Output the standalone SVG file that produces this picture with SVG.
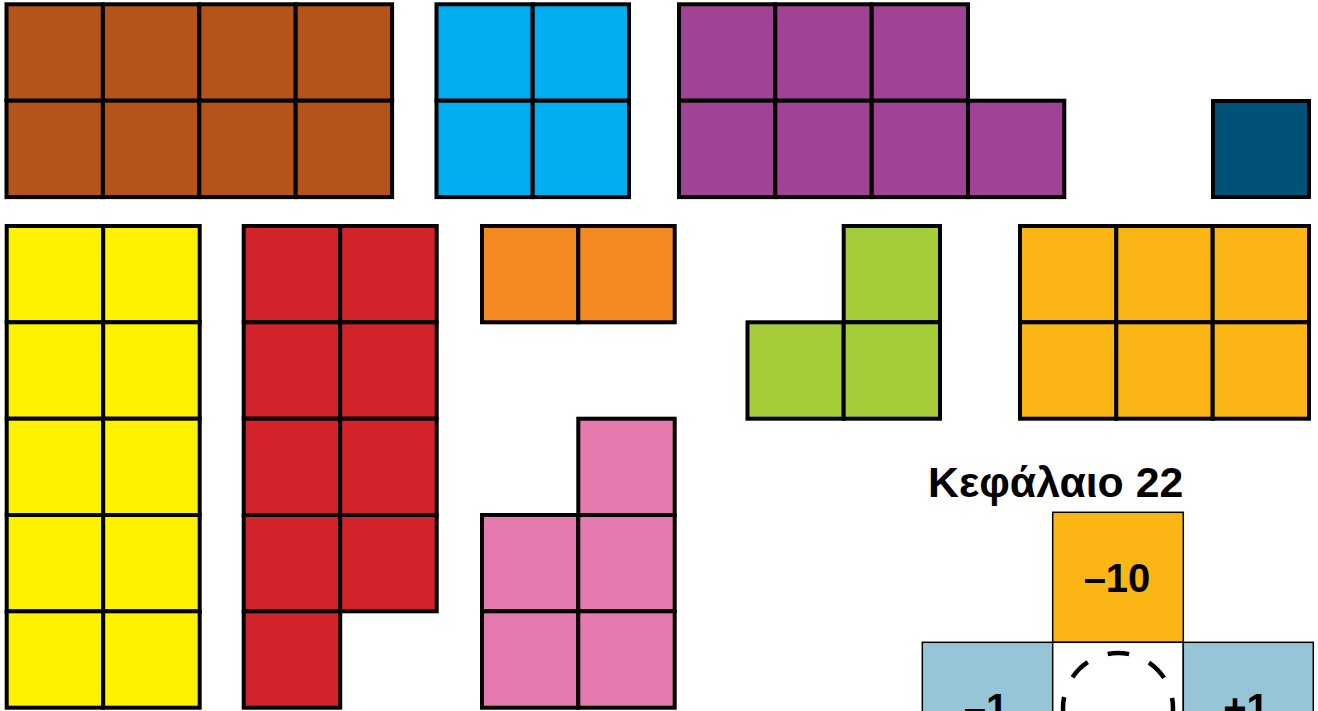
<svg xmlns="http://www.w3.org/2000/svg" width="1318" height="711" viewBox="0 0 1318 711">
<style>
.c{stroke:#000;stroke-width:4}
.brown{fill:#B5541A}.cyan{fill:#00AEEF}.purple{fill:#A14395}.navy{fill:#005178}
.yellow{fill:#FFF200}.red{fill:#D2232A}.orange{fill:#F58A22}.green{fill:#A5CD3A}
.gold{fill:#FBB615}.pink{fill:#E57AAF}
.b{stroke:#000;stroke-width:1.5}
.t{font-family:"Liberation Sans",Arial,sans-serif;font-weight:bold;fill:#000}
</style>
<rect width="1318" height="711" fill="#fff"/>
<g id="brown" class="brown">
<rect class="c" x="6.5" y="4.3" width="96.4" height="96.4"/><rect class="c" x="102.9" y="4.3" width="96.4" height="96.4"/><rect class="c" x="199.3" y="4.3" width="96.4" height="96.4"/><rect class="c" x="295.7" y="4.3" width="96.4" height="96.4"/>
<rect class="c" x="6.5" y="100.7" width="96.4" height="96.4"/><rect class="c" x="102.9" y="100.7" width="96.4" height="96.4"/><rect class="c" x="199.3" y="100.7" width="96.4" height="96.4"/><rect class="c" x="295.7" y="100.7" width="96.4" height="96.4"/>
</g>
<g id="cyan" class="cyan">
<rect class="c" x="436.5" y="4.3" width="96.2" height="96.4"/><rect class="c" x="532.7" y="4.3" width="96.3" height="96.4"/>
<rect class="c" x="436.5" y="100.7" width="96.2" height="96.4"/><rect class="c" x="532.7" y="100.7" width="96.3" height="96.4"/>
</g>
<g id="purple" class="purple">
<rect class="c" x="679" y="4.3" width="96.3" height="96.4"/><rect class="c" x="775.3" y="4.3" width="96.4" height="96.4"/><rect class="c" x="871.7" y="4.3" width="96.3" height="96.4"/>
<rect class="c" x="679" y="100.7" width="96.3" height="96.4"/><rect class="c" x="775.3" y="100.7" width="96.4" height="96.4"/><rect class="c" x="871.7" y="100.7" width="96.3" height="96.4"/><rect class="c" x="968" y="100.7" width="96.3" height="96.4"/>
</g>
<g id="navy" class="navy">
<rect class="c" x="1213" y="101" width="96" height="96"/>
</g>
<g id="yellow" class="yellow">
<rect class="c" x="6.7" y="226" width="96.5" height="96.3"/><rect class="c" x="103.2" y="226" width="96.5" height="96.3"/>
<rect class="c" x="6.7" y="322.3" width="96.5" height="96.4"/><rect class="c" x="103.2" y="322.3" width="96.5" height="96.4"/>
<rect class="c" x="6.7" y="418.7" width="96.5" height="96.3"/><rect class="c" x="103.2" y="418.7" width="96.5" height="96.3"/>
<rect class="c" x="6.7" y="515" width="96.5" height="96.3"/><rect class="c" x="103.2" y="515" width="96.5" height="96.3"/>
<rect class="c" x="6.7" y="611.3" width="96.5" height="96.4"/><rect class="c" x="103.2" y="611.3" width="96.5" height="96.4"/>
</g>
<g id="red" class="red">
<rect class="c" x="243.7" y="226" width="96.5" height="96.3"/><rect class="c" x="340.2" y="226" width="96.5" height="96.3"/>
<rect class="c" x="243.7" y="322.3" width="96.5" height="96.4"/><rect class="c" x="340.2" y="322.3" width="96.5" height="96.4"/>
<rect class="c" x="243.7" y="418.7" width="96.5" height="96.3"/><rect class="c" x="340.2" y="418.7" width="96.5" height="96.3"/>
<rect class="c" x="243.7" y="515" width="96.5" height="96.3"/><rect class="c" x="340.2" y="515" width="96.5" height="96.3"/>
<rect class="c" x="243.7" y="611.3" width="96.5" height="96.4"/>
</g>
<g id="orange" class="orange">
<rect class="c" x="482" y="226" width="96.3" height="96.3"/><rect class="c" x="578.3" y="226" width="96.4" height="96.3"/>
</g>
<g id="green" class="green">
<rect class="c" x="843.7" y="226" width="96.3" height="96.3"/>
<rect class="c" x="747.5" y="322.3" width="96.2" height="96.4"/><rect class="c" x="843.7" y="322.3" width="96.3" height="96.4"/>
</g>
<g id="gold" class="gold">
<rect class="c" x="1020" y="226" width="96.3" height="96.3"/><rect class="c" x="1116.3" y="226" width="96.4" height="96.3"/><rect class="c" x="1212.7" y="226" width="96.3" height="96.3"/>
<rect class="c" x="1020" y="322.3" width="96.3" height="96.4"/><rect class="c" x="1116.3" y="322.3" width="96.4" height="96.4"/><rect class="c" x="1212.7" y="322.3" width="96.3" height="96.4"/>
</g>
<g id="pink" class="pink">
<rect class="c" x="578.3" y="418.7" width="96.4" height="96.3"/>
<rect class="c" x="482" y="515" width="96.3" height="96.3"/><rect class="c" x="578.3" y="515" width="96.4" height="96.3"/>
<rect class="c" x="482" y="611.3" width="96.3" height="96.4"/><rect class="c" x="578.3" y="611.3" width="96.4" height="96.4"/>
</g>
<g id="chapter">
<text class="t" x="928" y="496.5" font-size="42.8">Κεφάλαιο 22</text>
</g>
<g id="top-box">
<rect class="b" x="1052.7" y="512.3" width="130.6" height="130" fill="#FBB615"/>
<text class="t" x="1117" y="592" font-size="40" text-anchor="middle">–10</text>
</g>
<g id="left-box">
<rect class="b" x="922.3" y="642.3" width="130.4" height="130" fill="#96C5D8"/>
<text class="t" x="986" y="722" font-size="40" text-anchor="middle">–1</text>
</g>
<g id="center-box">
<rect class="b" x="1052.7" y="642.3" width="130.6" height="130" fill="#fff"/>
<circle cx="1118" cy="708" r="55" fill="none" stroke="#000" stroke-width="4.5" stroke-dasharray="21.6 21.6" stroke-dashoffset="10.8"/>
</g>
<g id="right-box">
<rect class="b" x="1183.3" y="642.3" width="130" height="130" fill="#96C5D8"/>
<text class="t" x="1246" y="722" font-size="40" text-anchor="middle">+1</text>
</g>
<g id="connectors"/>
</svg>
